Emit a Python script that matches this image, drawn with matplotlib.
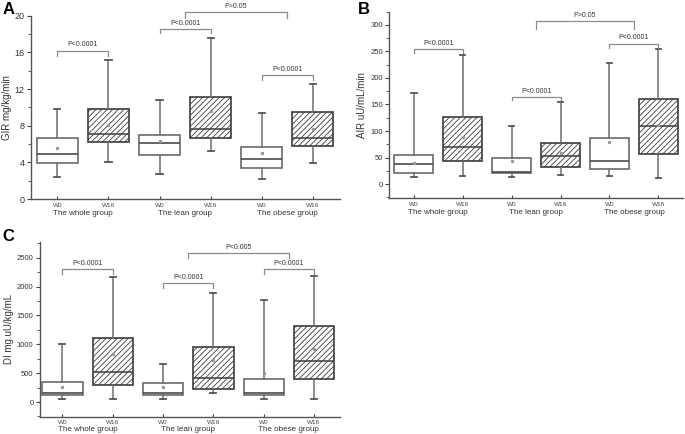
import matplotlib.pyplot as plt
from matplotlib.ticker import MultipleLocator, AutoMinorLocator
from matplotlib.transforms import blended_transform_factory

plt.rcParams['font.family'] = ['Liberation Sans', 'DejaVu Sans']
plt.rcParams['hatch.color'] = '#8a8a8a'
plt.rcParams['hatch.linewidth'] = 0.6

# --- data ---
tick_labels = ["W0", "W16", "W0", "W16", "W0", "W16"]
groups = ["The whole group", "The lean group", "The obese group"]

# GIR (panel A): low whisker, Q1, median, Q3, high whisker, mean
gir_low = [2.4, 4.1, 2.8, 5.3, 2.2, 3.9]
gir_q1 = [3.9, 6.2, 4.8, 6.7, 3.45, 5.85]
gir_med = [4.95, 7.1, 6.07, 7.7, 4.33, 6.69]
gir_q3 = [6.65, 9.8, 7.0, 11.1, 5.74, 9.49]
gir_high = [9.85, 15.2, 10.8, 17.6, 9.4, 12.6]
gir_mean = [5.56, 8.1, 6.32, 9.6, 5.05, 7.7]

# AIR (panel B)
air_low = [12.5, 15.6, 12.5, 16.9, 15.6, 10.6]
air_q1 = [21.2, 43.7, 20.6, 32.5, 27.5, 56.7]
air_med = [37.5, 70.0, 23.0, 53.0, 42.5, 109.0]
air_q3 = [54.3, 126.7, 48.7, 78.0, 86.0, 160.0]
air_high = [171.0, 244.0, 108.6, 154.0, 228.0, 254.0]
air_mean = [40.0, 88.0, 43.0, 58.0, 79.0, 112.0]

# DI (panel C)
di_low = [57, 57, 46, 150, 57, 46]
di_q1 = [115, 299, 115, 224, 121, 391]
di_med = [160, 512, 150, 420, 160, 718]
di_q3 = [340, 1109, 322, 954, 402, 1316]
di_high = [1012, 2172, 660, 1885, 1770, 2178]
di_mean = [260, 840, 264, 730, 500, 920]

# brackets: (x1, x2, leg bottom, top, label)
gir_pvals = [(1, 2, 15.6, 16.2, "P<0.0001"), (3, 4, 18.1, 18.5, "P<0.0001"),
             (3.5, 5.5, 19.7, 20.4, "P>0.05"), (5, 6, 13.0, 13.5, "P<0.0001")]
air_pvals = [(1, 2, 247, 254, "P<0.0001"), (3, 4, 158, 164, "P<0.0001"),
             (3.5, 5.5, 292, 307, "P>0.05"), (5, 6, 257, 265, "P<0.0001")]
di_pvals = [(1, 2, 2219, 2305, "P<0.0001"), (3, 4, 1978, 2064, "P<0.0001"),
            (3.5, 5.5, 2495, 2581, "P<0.005"), (5, 6, 2219, 2305, "P<0.0001")]

positions = [1, 2, 3, 4, 5, 6]


def draw_panel(ax, low, q1, med, q3, high, mean, pvals, ylabel,
               ylim, major, tick_fs, ylab_fs, group_y):
    stats = []
    for i in range(len(positions)):
        stats.append(dict(whislo=low[i], q1=q1[i], med=med[i], q3=q3[i],
                          whishi=high[i], mean=mean[i], fliers=[]))
    bp = ax.bxp(stats, positions=positions, widths=0.8, showmeans=True,
                patch_artist=True, showfliers=False,
                whiskerprops=dict(color="#6e6e6e", lw=1.1),
                capprops=dict(color="#555555", lw=1.3),
                medianprops=dict(color="#4a4a4a", lw=1.2),
                meanprops=dict(marker="s", markersize=1.3, markerfacecolor="#999999",
                               markeredgecolor="#999999"),
                capwidths=0.12)
    for i, box in enumerate(bp["boxes"]):
        box.set_facecolor("white")
        if i % 2 == 1:
            box.set_hatch("//////")
            box.set_edgecolor("#3c3c3c")
        else:
            box.set_edgecolor("#6a6a6a")
        box.set_linewidth(1.2)

    for x1, x2, yb, yt, lab in pvals:
        ax.plot([x1, x1, x2, x2], [yb, yt, yt, yb], color="#8c8c8c", lw=0.9,
                clip_on=False)
        ax.text((x1 + x2) / 2, yt + (ylim[1] - ylim[0]) * 0.012, lab,
                ha="center", va="bottom", fontsize=5, color="#333333")

    ax.set_xlim(0.5, 6.5)
    ax.set_ylim(*ylim)
    ax.yaxis.set_major_locator(MultipleLocator(major))
    ax.yaxis.set_minor_locator(AutoMinorLocator(2))
    ax.set_xticks(positions)
    ax.set_xticklabels(tick_labels, fontsize=4.6, color="#444444")
    ax.tick_params(axis="x", direction="in", length=2, pad=2.5, colors="#444444")
    ax.tick_params(axis="y", labelsize=tick_fs, length=3, pad=1.5,
                   colors="#444444", labelcolor="#333333")
    ax.tick_params(axis="y", which="minor", length=2, colors="#444444")
    for s in ["top", "right"]:
        ax.spines[s].set_visible(False)
    for s in ["left", "bottom"]:
        ax.spines[s].set_color("#555555")
        ax.spines[s].set_linewidth(1.0)
    ax.set_ylabel(ylabel, fontsize=ylab_fs, color="#333333", labelpad=2)

    trans = blended_transform_factory(ax.transData, ax.transAxes)
    for g, name in enumerate(groups):
        ax.text(positions[2 * g] + 0.5, group_y, name, transform=trans,
                ha="center", va="center", fontsize=5.8, color="#333333")
    return bp


fig = plt.figure(figsize=(6.85, 4.34), dpi=100)

ax_a = fig.add_axes([0.045, 0.541, 0.451, 0.423])
draw_panel(ax_a, gir_low, gir_q1, gir_med, gir_q3, gir_high, gir_mean,
           gir_pvals, "GIR mg/kg/min", (0, 20), 4, 6.5, 7, -0.076)
ax_a.set_xlim(0.48, 6.53)

ax_b = fig.add_axes([0.568, 0.543, 0.429, 0.430])
draw_panel(ax_b, air_low, air_q1, air_med, air_q3, air_high, air_mean,
           air_pvals, "AIR uU/mL/min", (-27, 325), 50, 5.5, 7, -0.076)

ax_c = fig.add_axes([0.058, 0.040, 0.438, 0.403])
draw_panel(ax_c, di_low, di_q1, di_med, di_q3, di_high, di_mean,
           di_pvals, "DI mg.uU/kg/mL", (-253, 2776), 500, 5.5, 7, -0.076)
ax_c.set_xlim(0.55, 6.51)

fig.text(0.004, 0.995, "A", fontsize=12, fontweight="bold", va="top")
fig.text(0.522, 0.995, "B", fontsize=12, fontweight="bold", va="top")
fig.text(0.004, 0.472, "C", fontsize=12, fontweight="bold", va="top")

fig.savefig("out.png", dpi=100)
